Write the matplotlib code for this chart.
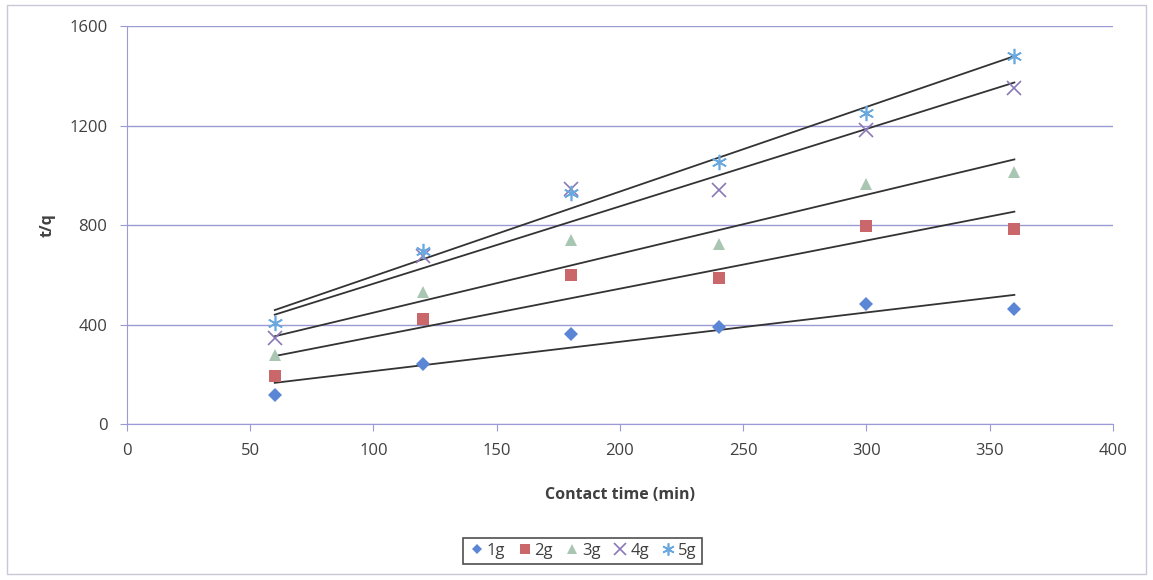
import numpy as np
import matplotlib.pyplot as plt
from matplotlib.patches import Rectangle

# contact time (min) and t/q for each adsorbent dose
time = [60, 120, 180, 240, 300, 360]
tq_1g = [117, 241, 362, 390, 482, 462]
tq_2g = [193, 422, 599, 587, 796, 784]
tq_3g = [277, 530, 740, 723, 965, 1015]
tq_4g = [346, 675, 945, 940, 1182, 1350]
tq_5g = [406, 695, 930, 1053, 1250, 1478]
labels = ['1g', '2g', '3g', '4g', '5g']

plt.rcParams['font.family'] = ['Open Sans', 'DejaVu Sans']
txt = '#404040'
grid_c = '#9a9ad6'

fig = plt.figure(figsize=(11.53, 5.80), dpi=100)
ax = fig.add_axes([0.110, 0.269, 0.8553, 0.686])

series = [tq_1g, tq_2g, tq_3g, tq_4g, tq_5g]
styles = [
    dict(marker='D', color='#5b86d6', ms=7, mew=0),
    dict(marker='s', color='#c9676a', ms=9, mew=0),
    dict(marker='^', color='#a9c6b3', ms=9, mew=0),
    dict(marker='x', color='#8a78b8', ms=10, mew=1.2),
    dict(marker=(6, 2, 0), color='#6aa8e0', ms=11, mew=1.2),
]

x = np.array(time, dtype=float)
for vals, lab, st in zip(series, labels, styles):
    ax.plot(time, vals, linestyle='none', label=lab, **st)
    # linear trend line over the measured range
    k, b = np.polyfit(x, np.array(vals, dtype=float), 1)
    ax.plot([x[0], x[-1]], [k * x[0] + b, k * x[-1] + b], color='#333333', lw=1.3, zorder=1)

ax.set_xlim(0, 400)
ax.set_ylim(0, 1600)
ax.set_xticks(range(0, 401, 50))
ax.set_yticks(range(0, 1601, 400))
ax.yaxis.grid(True, color=grid_c, lw=1)
ax.set_axisbelow(True)
for s in ['top', 'right']:
    ax.spines[s].set_visible(False)
for s in ['left', 'bottom']:
    ax.spines[s].set_color(grid_c)
ax.tick_params(colors=grid_c, labelcolor=txt, labelsize=12, length=5, pad=9)

ax.set_xlabel('Contact time (min)', fontsize=11.5, fontweight='bold', color=txt, labelpad=20)
ax.set_ylabel('t/q', fontsize=11.5, fontweight='bold', color=txt, labelpad=10)

leg = fig.legend(loc='center', bbox_to_anchor=(0.505, 0.05), ncol=5, frameon=True,
                 fontsize=12, handletextpad=0.05, columnspacing=0.6, handlelength=1.1,
                 markerscale=0.8, fancybox=False, borderpad=0.3)
leg.get_frame().set_edgecolor('#222222')
leg.get_frame().set_linewidth(1.2)
for t in leg.get_texts():
    t.set_color(txt)

fig.patches.append(Rectangle((0.006, 0.01), 0.988, 0.982, transform=fig.transFigure,
                             fill=False, edgecolor='#c8c8d8', lw=1))

fig.savefig('out.png', dpi=100)
